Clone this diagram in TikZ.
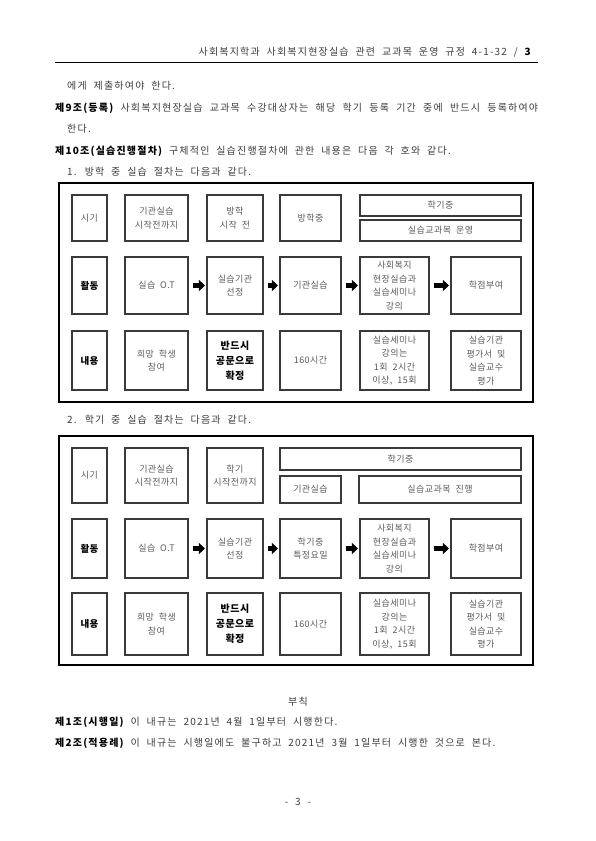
\documentclass[tikz,border=0pt]{standalone}
\usepackage{fontspec}
\setmainfont{Noto Sans CJK KR}[WordSpace=2,LetterSpace=12]
\newfontfamily\cellfont{Noto Sans CJK KR}[WordSpace=2,LetterSpace=5]
\usetikzlibrary{arrows.meta}
\definecolor{boxline}{HTML}{3A3A3A}
\definecolor{boxtext}{HTML}{5A5A5A}
\definecolor{bodytext}{HTML}{3C3C3C}

\begin{document}
\begin{tikzpicture}[
  x=1pt,y=-1pt,
  line join=miter,
  txt/.style={anchor=west,inner sep=0pt,text=bodytext,font=\fontsize{10}{12}\selectfont},
  cell/.style={draw=boxline,line width=1.1pt,text=boxtext,align=center,inner sep=0pt,
    font=\cellfont\fontsize{9}{13.5}\selectfont},
  head/.style={cell,text=black,font=\cellfont\bfseries\fontsize{9.5}{13.5}\selectfont},
  strong/.style={cell,text=black,font=\cellfont\bfseries\fontsize{10}{15}\selectfont},
  frame/.style={draw=black,line width=1.2pt},
  flow/.style={line width=4.5pt,-{Triangle[length=6pt,width=11pt]},
    shorten <=4pt,shorten >=1.5pt}
]
  \useasboundingbox (0,0) rectangle (595,841);

  % Running head
  \node[anchor=east,inner sep=0pt,text=bodytext,font=\fontsize{10}{12}\selectfont] (hdr) at (531,52)
    {사회복지학과 사회복지현장실습 관련 교과목 운영 규정 4-1-32 / {\bfseries\color{black}3}};
  \draw[line width=1pt] (55,62) -- (538,62);

  % Body text
  \node[txt] (l1) at (67,86) {에게 제출하여야 한다.};
  \node[txt] (l2) at (55,108) {\makebox[483pt][s]{{\bfseries\color{black}제9조(등록)} 사회복지현장실습 교과목 수강대상자는 해당 학기 등록 기간 중에 반드시 등록하여야}};
  \node[txt] (l3) at (67,129) {한다.};
  \node[txt] (l4) at (55,151) {{\bfseries\color{black}제10조(실습진행절차)} 구체적인 실습진행절차에 관한 내용은 다음 각 호와 같다.};
  \node[txt] (l5) at (67,172) {1. 방학 중 실습 절차는 다음과 같다.};

  % Table 1
  \draw[frame] (59,183) rectangle (533,402);
  \node[cell,minimum width=35pt,minimum height=46pt] (b1-when) at (89.5,218) {시기};
  \node[cell,minimum width=63pt,minimum height=46pt] (b1-prep) at (156.5,218) {기관실습\\시작전까지};
  \node[cell,minimum width=56pt,minimum height=46pt] (b1-before) at (235,218) {방학\\시작 전};
  \node[cell,minimum width=61pt,minimum height=46pt] (b1-vac) at (310.5,218) {방학중};
  \node[cell,minimum width=161pt,minimum height=21pt] (b1-term) at (440.5,205.5) {학기중};
  \node[cell,minimum width=161pt,minimum height=21pt] (b1-course) at (440.5,230.5) {실습교과목 운영};

  \node[head,minimum width=35pt,minimum height=57pt] (b1-act) at (89.5,285.5) {활동};
  \node[cell,minimum width=63pt,minimum height=57pt] (b1-ot) at (156.5,285.5) {실습 O.T};
  \node[cell,minimum width=56pt,minimum height=57pt] (b1-pick) at (235,285.5) {실습기관\\선정};
  \node[cell,minimum width=61pt,minimum height=57pt] (b1-field) at (310.5,285.5) {기관실습};
  \node[cell,minimum width=69pt,minimum height=57pt] (b1-seminar) at (394.5,285.5) {사회복지\\현장실습과\\실습세미나\\강의};
  \node[cell,minimum width=70pt,minimum height=57pt] (b1-credit) at (486,285.5) {학점부여};

  \node[head,minimum width=35pt,minimum height=59pt] (b1-what) at (89.5,360.5) {내용};
  \node[cell,minimum width=63pt,minimum height=59pt] (b1-hope) at (156.5,360.5) {희망 학생\\참여};
  \node[strong,minimum width=56pt,minimum height=59pt] (b1-letter) at (235,360.5) {반드시\\공문으로\\확정};
  \node[cell,minimum width=61pt,minimum height=59pt] (b1-hours) at (310.5,360.5) {160시간};
  \node[cell,minimum width=69pt,minimum height=59pt] (b1-lecture) at (394.5,360.5) {실습세미나\\강의는\\1회 2시간\\이상, 15회};
  \node[cell,minimum width=70pt,minimum height=59pt] (b1-eval) at (486,360.5) {실습기관\\평가서 및\\실습교수\\평가};

  \draw[flow] (b1-ot) -- (b1-pick);
  \draw[flow] (b1-pick) -- (b1-field);
  \draw[flow] (b1-field) -- (b1-seminar);
  \draw[flow] (b1-seminar) -- (b1-credit);

  % Table 2
  \node[txt] (l6) at (67,420) {2. 학기 중 실습 절차는 다음과 같다.};
  \draw[frame] (59,436) rectangle (533,665);
  \node[cell,minimum width=35pt,minimum height=55pt] (b2-when) at (89.5,475.5) {시기};
  \node[cell,minimum width=63pt,minimum height=55pt] (b2-prep) at (156.5,475.5) {기관실습\\시작전까지};
  \node[cell,minimum width=56pt,minimum height=55pt] (b2-before) at (235,475.5) {학기\\시작전까지};
  \node[cell,minimum width=241pt,minimum height=22pt] (b2-term) at (400.5,459) {학기중};
  \node[cell,minimum width=61pt,minimum height=27pt] (b2-field0) at (310.5,489.5) {기관실습};
  \node[cell,minimum width=162pt,minimum height=27pt] (b2-course) at (440,489.5) {실습교과목 진행};

  \node[head,minimum width=35pt,minimum height=59pt] (b2-act) at (89.5,548.5) {활동};
  \node[cell,minimum width=63pt,minimum height=59pt] (b2-ot) at (156.5,548.5) {실습 O.T};
  \node[cell,minimum width=56pt,minimum height=59pt] (b2-pick) at (235,548.5) {실습기관\\선정};
  \node[cell,minimum width=61pt,minimum height=59pt] (b2-field) at (310.5,548.5) {학기중\\특정요일};
  \node[cell,minimum width=69pt,minimum height=59pt] (b2-seminar) at (394.5,548.5) {사회복지\\현장실습과\\실습세미나\\강의};
  \node[cell,minimum width=70pt,minimum height=59pt] (b2-credit) at (486,548.5) {학점부여};

  \node[head,minimum width=35pt,minimum height=62pt] (b2-what) at (89.5,624) {내용};
  \node[cell,minimum width=63pt,minimum height=62pt] (b2-hope) at (156.5,624) {희망 학생\\참여};
  \node[strong,minimum width=56pt,minimum height=62pt] (b2-letter) at (235,624) {반드시\\공문으로\\확정};
  \node[cell,minimum width=61pt,minimum height=62pt] (b2-hours) at (310.5,624) {160시간};
  \node[cell,minimum width=69pt,minimum height=62pt] (b2-lecture) at (394.5,624) {실습세미나\\강의는\\1회 2시간\\이상, 15회};
  \node[cell,minimum width=70pt,minimum height=62pt] (b2-eval) at (486,624) {실습기관\\평가서 및\\실습교수\\평가};

  \draw[flow] (b2-ot) -- (b2-pick);
  \draw[flow] (b2-pick) -- (b2-field);
  \draw[flow] (b2-field) -- (b2-seminar);
  \draw[flow] (b2-seminar) -- (b2-credit);

  % Addenda
  \node[inner sep=0pt,text=bodytext,font=\fontsize{10}{12}\selectfont] (add) at (298,702) {부칙};
  \node[txt] (l7) at (55,722) {{\bfseries\color{black}제1조(시행일)} 이 내규는 2021년 4월 1일부터 시행한다.};
  \node[txt] (l8) at (55,743) {{\bfseries\color{black}제2조(적용례)} 이 내규는 시행일에도 불구하고 2021년 3월 1일부터 시행한 것으로 본다.};

  % Page number
  \node[inner sep=0pt,text=bodytext,font=\fontsize{10}{12}\selectfont] (pg) at (298,802) {- 3 -};
\end{tikzpicture}
\end{document}
